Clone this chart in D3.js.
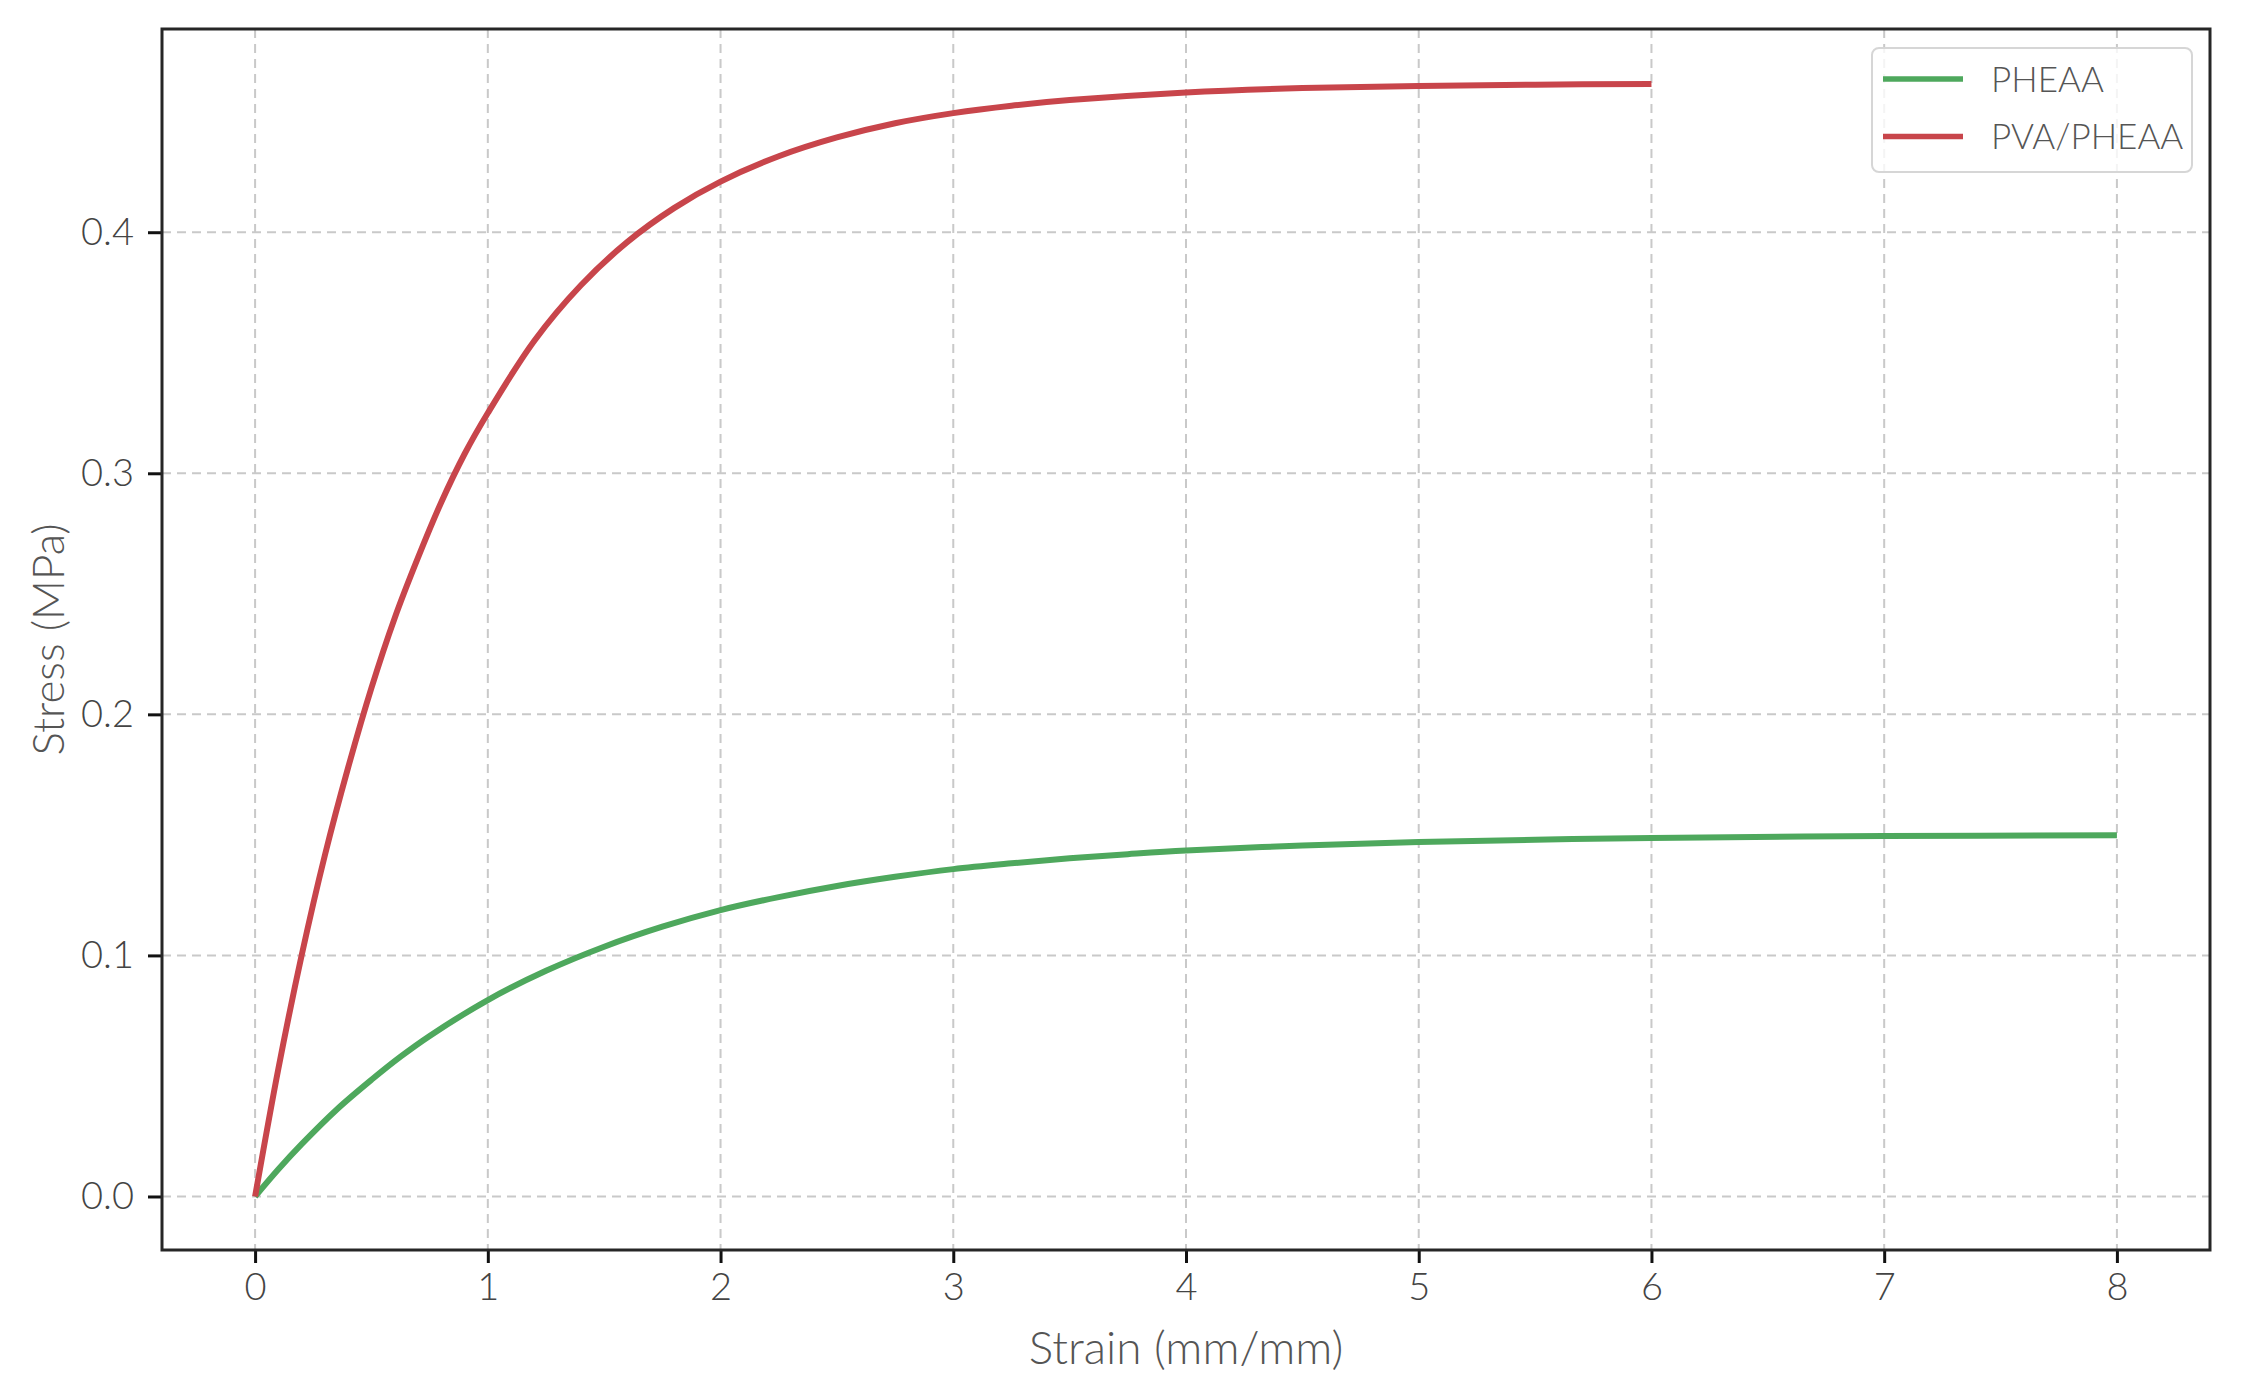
<!DOCTYPE html>
<html>
<head>
<meta charset="utf-8">
<script src="https://cdn.jsdelivr.net/npm/d3@7"></script>
<style>
  html, body { margin: 0; padding: 0; background: #fff; }
  svg { display: block; }
  text { font-family: Lato, "Open Sans", sans-serif; font-weight: 300; }
</style>
</head>
<body>
<svg id="chart" width="2241" height="1397"></svg>
<script>
// ---- data ----
const seriesNames = ["PHEAA", "PVA/PHEAA"];
const seriesColors = ["#4ea85d", "#c8454b"];

const pheaaStrain = [0, 0.1, 0.2, 0.35, 0.5, 0.625, 0.75, 1, 1.25, 1.5, 1.75, 2, 2.25, 2.5, 2.75, 3, 3.25, 3.5, 3.75, 4, 4.5, 5, 5.5, 6, 7, 8];
const pheaaStress = [0, 0.0113, 0.0217, 0.0360, 0.0484, 0.0580, 0.0666, 0.0815, 0.0936, 0.1036, 0.1119, 0.1188, 0.1242, 0.1288, 0.1326, 0.1358, 0.1382, 0.1403, 0.1420, 0.1435, 0.1456, 0.1470, 0.1480, 0.1487, 0.1495, 0.1498];

const pvaStrain = [0, 0.1, 0.2, 0.3, 0.4, 0.5, 0.6, 0.7, 0.8, 0.9, 1.0, 1.2, 1.4, 1.6, 1.8, 2.0, 2.25, 2.5, 2.75, 3.0, 3.25, 3.5, 4.0, 4.5, 5.0, 5.5, 6.0];
const pvaStress = [0, 0.053, 0.100, 0.1416, 0.178, 0.211, 0.240, 0.265, 0.288, 0.308, 0.325, 0.355, 0.378, 0.396, 0.410, 0.421, 0.4315, 0.4393, 0.4452, 0.4494, 0.4525, 0.4548, 0.4580, 0.4598, 0.4607, 0.4612, 0.4615];

const xTicks = [0, 1, 2, 3, 4, 5, 6, 7, 8];
const yTicks = [0.0, 0.1, 0.2, 0.3, 0.4];
const xLabel = "Strain (mm/mm)";
const yLabel = "Stress (MPa)";

// ---- layout ----
const W = 2241, H = 1397;
const margin = { left: 162, top: 29, right: 31, bottom: 147 };
const svg = d3.select("#chart");

const x = d3.scaleLinear().domain([-0.4, 8.4]).range([margin.left, W - margin.right]);
const y = d3.scaleLinear().domain([-0.0222, 0.4843]).range([H - margin.bottom, margin.top]);

// grid
const grid = svg.append("g");
grid.selectAll("line.vg").data(xTicks).enter().append("line")
  .attr("x1", d => x(d)).attr("x2", d => x(d))
  .attr("y1", margin.top).attr("y2", H - margin.bottom)
  .attr("stroke", "#c9c9c9").attr("stroke-width", 2).attr("stroke-dasharray", "9,6");
grid.selectAll("line.hg").data(yTicks).enter().append("line")
  .attr("y1", d => y(d)).attr("y2", d => y(d))
  .attr("x1", margin.left).attr("x2", W - margin.right)
  .attr("stroke", "#c9c9c9").attr("stroke-width", 2).attr("stroke-dasharray", "9,6");

// lines
const series = [
  { name: seriesNames[0], color: seriesColors[0], xs: pheaaStrain, ys: pheaaStress },
  { name: seriesNames[1], color: seriesColors[1], xs: pvaStrain, ys: pvaStress }
];
const line = d3.line().x(d => x(d[0])).y(d => y(d[1])).curve(d3.curveCatmullRom.alpha(0.5));
series.forEach(s => {
  svg.append("path")
    .datum(s.xs.map((v, i) => [v, s.ys[i]]))
    .attr("d", line)
    .attr("fill", "none")
    .attr("stroke", s.color)
    .attr("stroke-width", 6)
    .attr("stroke-linejoin", "round")
    .attr("stroke-linecap", "butt");
});

// axes
const xAxis = d3.axisBottom(x).tickValues(xTicks).tickFormat(d3.format("d")).tickSize(13).tickPadding(10);
const yAxis = d3.axisLeft(y).tickValues(yTicks).tickFormat(d3.format(".1f")).tickSize(14).tickPadding(14);

const gx = svg.append("g").attr("transform", `translate(0,${H - margin.bottom})`).call(xAxis);
const gy = svg.append("g").attr("transform", `translate(${margin.left},0)`).call(yAxis);
[gx, gy].forEach(g => {
  g.select(".domain").remove();
  g.selectAll(".tick line").attr("stroke", "#111").attr("stroke-width", 3);
  g.selectAll(".tick text").attr("fill", "#444").style("font-size", "38px")
    .style("font-family", "Lato, sans-serif").style("font-weight", 300);
});

// frame
svg.append("rect")
  .attr("x", margin.left).attr("y", margin.top)
  .attr("width", W - margin.left - margin.right)
  .attr("height", H - margin.top - margin.bottom)
  .attr("fill", "none").attr("stroke", "#262626").attr("stroke-width", 3);

// axis labels
svg.append("text")
  .attr("x", (margin.left + W - margin.right) / 2).attr("y", 1364)
  .attr("text-anchor", "middle").attr("fill", "#555").style("font-size", "46px")
  .text(xLabel);
svg.append("text")
  .attr("transform", `translate(64,${(margin.top + H - margin.bottom) / 2}) rotate(-90)`)
  .attr("text-anchor", "middle").attr("fill", "#555").style("font-size", "44px")
  .text(yLabel);

// legend
const lg = svg.append("g");
lg.append("rect")
  .attr("x", 1872).attr("y", 48).attr("width", 320).attr("height", 124)
  .attr("rx", 7).attr("ry", 7)
  .attr("fill", "#fff").attr("fill-opacity", 0.8)
  .attr("stroke", "#d6d6d6").attr("stroke-width", 2);
series.forEach((s, i) => {
  const cy = 79 + i * 57.5;
  lg.append("line").attr("x1", 1883).attr("x2", 1963).attr("y1", cy).attr("y2", cy)
    .attr("stroke", s.color).attr("stroke-width", 5.5);
  lg.append("text").attr("x", 1991).attr("y", cy).attr("dy", "0.36em")
    .attr("fill", "#555").style("font-size", "35px").text(s.name);
});
</script>
</body>
</html>
